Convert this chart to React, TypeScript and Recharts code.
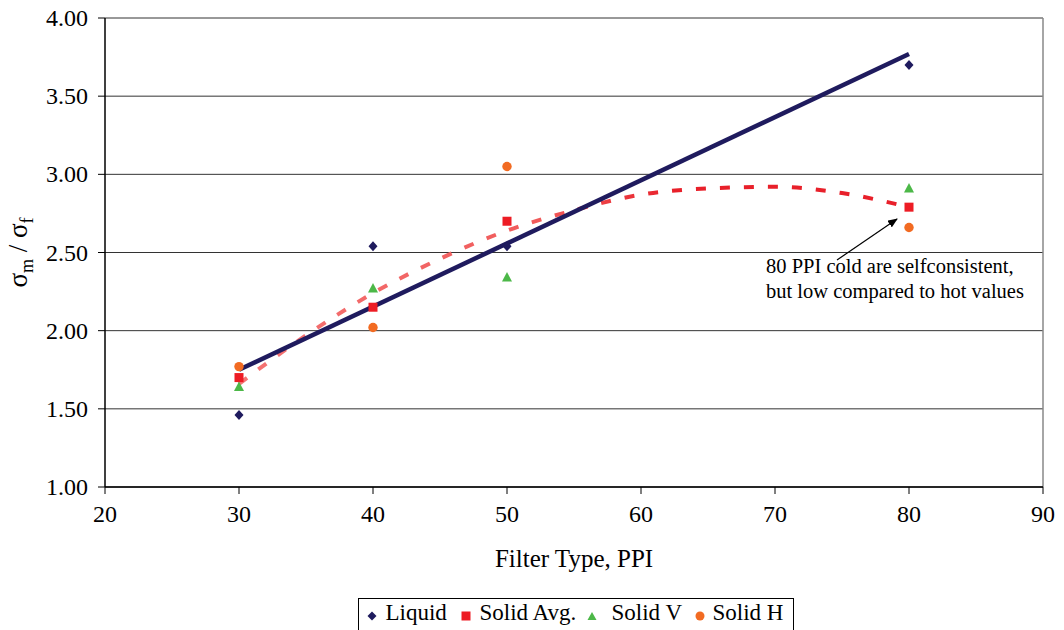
import React from 'react'
import {
  ComposedChart,
  Scatter,
  Line,
  XAxis,
  YAxis,
  CartesianGrid,
  ReferenceLine,
  Label,
} from 'recharts'

// measured points (filter PPI vs sigma_m / sigma_f)
const filterPpi = [30, 40, 50, 80]
const liquid = [1.46, 2.54, 2.54, 3.7]
const solidAvg = [1.7, 2.15, 2.7, 2.79]
const solidV = [1.64, 2.27, 2.34, 2.91]
const solidH = [1.77, 2.02, 3.05, 2.66]

// trend lines
const liquidTrendX = [30, 80]
const liquidTrendY = [1.75, 3.77]
const avgTrendX = [30, 35, 40, 45, 50, 55, 60, 65, 70, 75, 80]
const avgTrendY = [1.66, 1.97, 2.24, 2.46, 2.64, 2.77, 2.87, 2.91, 2.92, 2.88, 2.79]

const xTicks = [20, 30, 40, 50, 60, 70, 80, 90]
const yTicks = [1, 1.5, 2, 2.5, 3, 3.5, 4]

const NAVY = '#1f1b5e'
const RED = '#ed1c24'
const GREEN = '#4cb848'
const ORANGE = '#f26b22'
const FONT = 'Liberation Serif, Times New Roman, serif'

const zip = (xs: number[], ys: number[]) => xs.map((x, i) => ({ x, y: ys[i] }))

const Diamond = (p: any) => (
  <polygon
    points={`${p.cx},${p.cy - 5} ${p.cx + 4.5},${p.cy} ${p.cx},${p.cy + 5} ${p.cx - 4.5},${p.cy}`}
    fill={NAVY}
  />
)
const Square = (p: any) => <rect x={p.cx - 4.5} y={p.cy - 4.5} width={9} height={9} fill={RED} />
const Triangle = (p: any) => (
  <polygon
    points={`${p.cx},${p.cy - 5.5} ${p.cx + 5},${p.cy + 4} ${p.cx - 5},${p.cy + 4}`}
    fill={GREEN}
  />
)
const Dot = (p: any) => <circle cx={p.cx} cy={p.cy} r={4.7} fill={ORANGE} />

const XTick = (p: any) => (
  <text x={p.x} y={p.y + 22} textAnchor="middle" fontFamily={FONT} fontSize={24} fill="#000">
    {p.payload.value}
  </text>
)
const YTick = (p: any) => (
  <text x={p.x} y={p.y + 8} textAnchor="end" fontFamily={FONT} fontSize={24} fill="#000">
    {Number(p.payload.value).toFixed(2)}
  </text>
)

const YLabel = (props: any) => {
  const vb = props.viewBox || { x: 0, y: 18, width: 105, height: 469 }
  const x = vb.x + 27
  const y = vb.y + vb.height / 2
  return (
    <text
      x={x}
      y={y}
      transform={`rotate(-90, ${x}, ${y})`}
      textAnchor="middle"
      fontFamily={FONT}
      fontSize={27}
      fill="#000"
    >
      σ<tspan fontSize={18} dy={6}>m</tspan>
      <tspan dy={-6}> / σ</tspan>
      <tspan fontSize={18} dy={6}>f</tspan>
    </text>
  )
}

// legend entries: icon centre and label start, measured from the left edge of the box
const legendItems = [
  { name: 'Liquid', icon: <polygon points="6,1.5 10.5,6 6,10.5 1.5,6" fill={NAVY} />, iconX: 14, textX: 28 },
  { name: 'Solid Avg.', icon: <rect x={1.5} y={1.5} width={9} height={9} fill={RED} />, iconX: 108, textX: 122 },
  { name: 'Solid V', icon: <polygon points="6,2 10.5,10 1.5,10" fill={GREEN} />, iconX: 234, textX: 254 },
  { name: 'Solid H', icon: <circle cx={6} cy={6} r={4.5} fill={ORANGE} />, iconX: 342, textX: 355 },
]

export default function App() {
  return (
    <div style={{ position: 'absolute', left: 0, top: 0, width: 1064, height: 630, background: '#fff' }}>
      <ComposedChart
        width={1064}
        height={630}
        margin={{ top: 18, right: 21, left: 0, bottom: 0 }}
        style={{ fontFamily: FONT }}
      >
        <defs>
          <linearGradient id="avgGrad" x1="0" y1="0" x2="1" y2="0">
            <stop offset="0%" stopColor="#f47474" />
            <stop offset="45%" stopColor="#f05a5a" />
            <stop offset="65%" stopColor="#e8202a" />
            <stop offset="100%" stopColor="#e8202a" />
          </linearGradient>
        </defs>
        <CartesianGrid vertical={false} stroke="#333" strokeWidth={1} />
        <XAxis
          type="number"
          dataKey="x"
          domain={[20, 90]}
          ticks={xTicks}
          allowDataOverflow
          height={143}
          axisLine={{ stroke: '#000', strokeWidth: 1.5 }}
          tickLine={{ stroke: '#000' }}
          tickSize={7}
          tickMargin={6}
          tick={<XTick />}
        >
          <Label
            value="Filter Type, PPI"
            position="insideTop"
            offset={62}
            style={{ fill: '#000', fontFamily: FONT, fontSize: 25 }}
          />
        </XAxis>
        <YAxis
          type="number"
          dataKey="y"
          domain={[1, 4]}
          ticks={yTicks}
          width={105}
          axisLine={{ stroke: '#000', strokeWidth: 1.5 }}
          tickLine={{ stroke: '#000' }}
          tickSize={7}
          tickMargin={10}
          tick={<YTick />}
        >
          <Label content={<YLabel />} position="insideLeft" />
        </YAxis>
        <ReferenceLine x={90} stroke="#888" strokeWidth={1.5} />
        <Line
          data={zip(avgTrendX, avgTrendY)}
          dataKey="y"
          type="monotone"
          stroke="url(#avgGrad)"
          strokeWidth={4}
          strokeDasharray="10 14"
          dot={false}
          activeDot={false}
          isAnimationActive={false}
        />
        <Line
          data={zip(liquidTrendX, liquidTrendY)}
          dataKey="y"
          type="linear"
          stroke={NAVY}
          strokeWidth={4.5}
          dot={false}
          activeDot={false}
          isAnimationActive={false}
        />
        <Scatter name="Liquid" data={zip(filterPpi, liquid)} dataKey="y" shape={Diamond} isAnimationActive={false} />
        <Scatter name="Solid Avg." data={zip(filterPpi, solidAvg)} dataKey="y" shape={Square} isAnimationActive={false} />
        <Scatter name="Solid V" data={zip(filterPpi, solidV)} dataKey="y" shape={Triangle} isAnimationActive={false} />
        <Scatter name="Solid H" data={zip(filterPpi, solidH)} dataKey="y" shape={Dot} isAnimationActive={false} />
      </ComposedChart>

      {/* annotation */}
      <svg style={{ position: 'absolute', left: 0, top: 0 }} width={1064} height={630} pointerEvents="none">
        <defs>
          <marker id="arrowHead" markerWidth="10" markerHeight="8" refX="9" refY="4" orient="auto" markerUnits="userSpaceOnUse">
            <polygon points="0,0 10,4 0,8" fill="#000" />
          </marker>
        </defs>
        <line x1={837} y1={260} x2={897} y2={219} stroke="#000" strokeWidth={1.2} markerEnd="url(#arrowHead)" />
        <text x={766} y={273} fontFamily={FONT} fontSize={20.5} fill="#000">
          80 PPI cold are selfconsistent,
        </text>
        <text x={766} y={298} fontFamily={FONT} fontSize={20.5} fill="#000">
          but low compared to hot values
        </text>
      </svg>

      {/* legend */}
      <div
        style={{
          position: 'absolute',
          left: 358,
          top: 598,
          width: 436,
          height: 40,
          border: '1.5px solid #000',
          boxSizing: 'border-box',
          whiteSpace: 'nowrap',
          fontFamily: FONT,
          fontSize: 23,
          color: '#000',
        }}
      >
        {legendItems.map(it => (
          <React.Fragment key={it.name}>
            <svg
              width={12}
              height={12}
              style={{ position: 'absolute', left: it.iconX - 6 - 1.5, top: 18 - 6 - 1.5 }}
            >
              {it.icon}
            </svg>
            <span style={{ position: 'absolute', left: it.textX - 1.5, top: 2 - 1.5, lineHeight: '26px' }}>
              {it.name}
            </span>
          </React.Fragment>
        ))}
      </div>
    </div>
  )
}
